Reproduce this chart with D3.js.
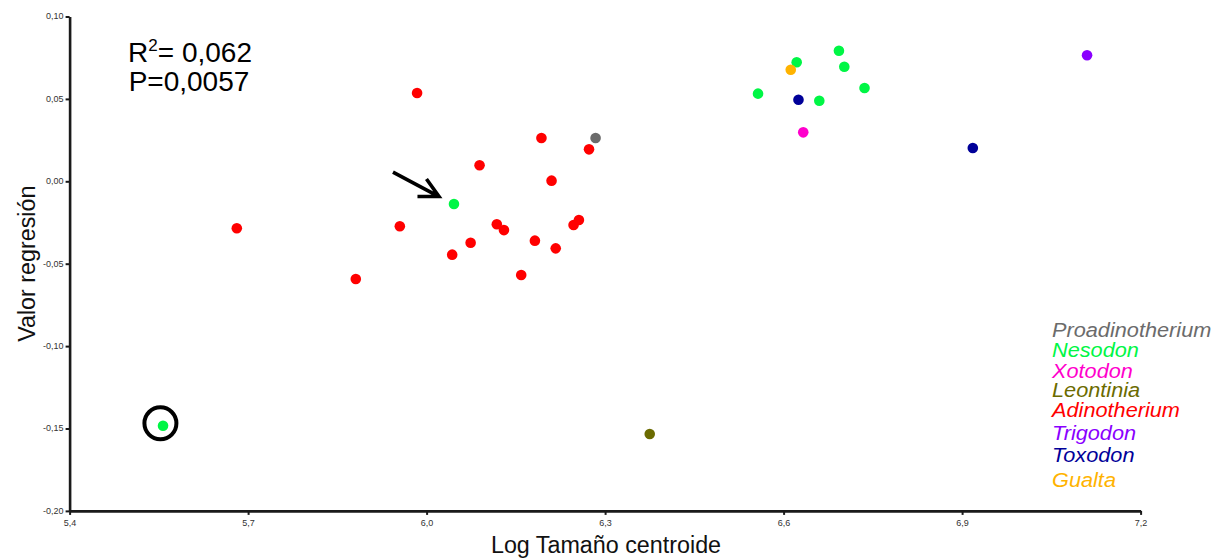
<!DOCTYPE html>
<html>
<head>
<meta charset="utf-8">
<script src="https://cdn.jsdelivr.net/npm/d3@7"></script>
<style>
  body { margin: 0; background: #fff; }
  svg { display: block; font-family: "Liberation Sans", Arial, sans-serif; }
</style>
</head>
<body>
<svg id="chart"></svg>
<script>
// species shown in the legend (top to bottom) and their colours
const species = ["Proadinotherium", "Nesodon", "Xotodon", "Leontinia", "Adinotherium", "Trigodon", "Toxodon", "Gualta"];
const speciesColors = ["#6b6b6b", "#00f645", "#ff00cc", "#6b6b00", "#ff0000", "#8a00ff", "#000099", "#ffb300"];

// points: log centroid size, regression value, species
const logSize = [5.681, 5.984, 5.881, 5.955, 6.043, 6.074, 6.089, 6.118, 6.130, 6.159, 6.182, 6.193, 6.210, 6.217, 6.247, 6.256, 6.273,
                 6.284,
                 6.046, 5.557, 6.557, 6.622, 6.693, 6.702, 6.660, 6.736,
                 6.612,
                 6.625, 6.918,
                 6.633,
                 6.375,
                 7.110];
const regValue = [-0.0285, 0.0536, -0.0593, -0.0273, -0.0445, -0.0373, 0.0097, -0.0261, -0.0296, -0.0569, -0.0360, 0.0263, 0.0004, -0.0407, -0.0265, -0.0235, 0.0194,
                  0.0263,
                  -0.0138, -0.1483, 0.0532, 0.0722, 0.0792, 0.0695, 0.0489, 0.0566,
                  0.0677,
                  0.0495, 0.0202,
                  0.0297,
                  -0.1533,
                  0.0765];
const pointSpecies = ["Adinotherium", "Adinotherium", "Adinotherium", "Adinotherium", "Adinotherium", "Adinotherium", "Adinotherium", "Adinotherium", "Adinotherium", "Adinotherium", "Adinotherium", "Adinotherium", "Adinotherium", "Adinotherium", "Adinotherium", "Adinotherium", "Adinotherium",
                      "Proadinotherium",
                      "Nesodon", "Nesodon", "Nesodon", "Nesodon", "Nesodon", "Nesodon", "Nesodon", "Nesodon",
                      "Gualta",
                      "Toxodon", "Toxodon",
                      "Xotodon",
                      "Leontinia",
                      "Trigodon"];

const xTicks = [5.4, 5.7, 6.0, 6.3, 6.6, 6.9, 7.2];
const yTicks = [-0.20, -0.15, -0.10, -0.05, 0.00, 0.05, 0.10];

const circledPoint = 19; // Nesodon point with the ring
const arrowPoint = 18;   // Nesodon point the arrow points at

const W = 1226, H = 558;

const svg = d3.select("#chart").attr("width", W).attr("height", H);

const x = d3.scaleLinear().domain([5.4, 7.2]).range([69.6, 1140.6]);
const y = d3.scaleLinear().domain([-0.2, 0.1]).range([510.9, 16.5]);

const color = d3.scaleOrdinal().domain(species).range(speciesColors);

const fmt = d => d3.format(".1f")(d).replace(".", ",");
const fmtY = d => d3.format(".2f")(d).replace(".", ",").replace("−", "-");

// axes
const xAxis = svg.append("g")
  .attr("transform", `translate(0,${y(-0.2)})`)
  .call(d3.axisBottom(x).tickValues(xTicks).tickFormat(fmt).tickSize(4).tickSizeOuter(0));

const yAxis = svg.append("g")
  .attr("transform", `translate(${x(5.4)},0)`)
  .call(d3.axisLeft(y).tickValues(yTicks).tickFormat(fmtY).tickSize(4).tickSizeOuter(0));

[xAxis, yAxis].forEach(a => {
  a.select(".domain").attr("stroke", "#1a1a1a").attr("stroke-width", 2.6);
  a.selectAll(".tick line").attr("stroke", "#1a1a1a").attr("stroke-width", 2);
  a.selectAll(".tick text")
    .attr("fill", "#333")
    .style("font-size", "9px")
    .style("font-family", "Liberation Sans, Arial, sans-serif");
});
xAxis.selectAll(".tick text").attr("dy", "0.9em");
yAxis.selectAll(".tick text").attr("x", -6).attr("dy", "0.7em").attr("y", -4);

// axis titles
svg.append("text")
  .attr("x", 606).attr("y", 553)
  .attr("text-anchor", "middle")
  .style("font-size", "23.3px")
  .attr("fill", "#111")
  .text("Log Tamaño centroide");

svg.append("text")
  .attr("transform", `translate(35,${y(-0.05)}) rotate(-90)`)
  .attr("text-anchor", "middle")
  .style("font-size", "23.3px")
  .attr("fill", "#111")
  .text("Valor regresión");

// stats text
const stats = svg.append("text")
  .attr("x", 190).attr("y", 62)
  .attr("text-anchor", "middle")
  .style("font-size", "28px")
  .attr("fill", "#000");
stats.append("tspan").text("R");
stats.append("tspan").attr("dy", -11).style("font-size", "17px").text("2");
stats.append("tspan").attr("dy", 11).text("= 0,062");

svg.append("text")
  .attr("x", 189).attr("y", 91)
  .attr("text-anchor", "middle")
  .style("font-size", "28px")
  .attr("fill", "#000")
  .text("P=0,0057");

// points
const points = logSize.map((v, i) => ({ x: v, y: regValue[i], s: pointSpecies[i] }));

svg.append("g")
  .selectAll("circle")
  .data(points)
  .join("circle")
  .attr("cx", d => x(d.x))
  .attr("cy", d => y(d.y))
  .attr("r", 5.3)
  .attr("fill", d => color(d.s));

// ring around outlier
const cp = points[circledPoint];
svg.append("circle")
  .attr("cx", x(cp.x) - 2.6)
  .attr("cy", y(cp.y) - 2.4)
  .attr("r", 16)
  .attr("fill", "none")
  .attr("stroke", "#000")
  .attr("stroke-width", 4);

// arrow
const ap = points[arrowPoint];
const tipX = x(ap.x) - 15, tipY = y(ap.y) - 7.5;
svg.append("path")
  .attr("d", `M${tipX - 46},${tipY - 24.5}L${tipX},${tipY}M${tipX - 12.5},${tipY - 17.5}L${tipX},${tipY}L${tipX - 21.5},${tipY}`)
  .attr("fill", "none")
  .attr("stroke", "#000")
  .attr("stroke-width", 3.6)
  .attr("stroke-linecap", "butt")
  .attr("stroke-linejoin", "miter");

// legend (slightly wide italic, like the original)
const legendBaselines = [336.7, 356.7, 378.3, 397.3, 417.3, 440, 461.7, 486.7];
svg.append("g")
  .attr("transform", "translate(1052,0) scale(1.06,1)")
  .selectAll("text")
  .data(species)
  .join("text")
  .attr("x", 0)
  .attr("y", (d, i) => legendBaselines[i])
  .style("font-size", "20.5px")
  .style("font-style", "italic")
  .attr("fill", d => color(d))
  .text(d => d);
</script>
</body>
</html>
